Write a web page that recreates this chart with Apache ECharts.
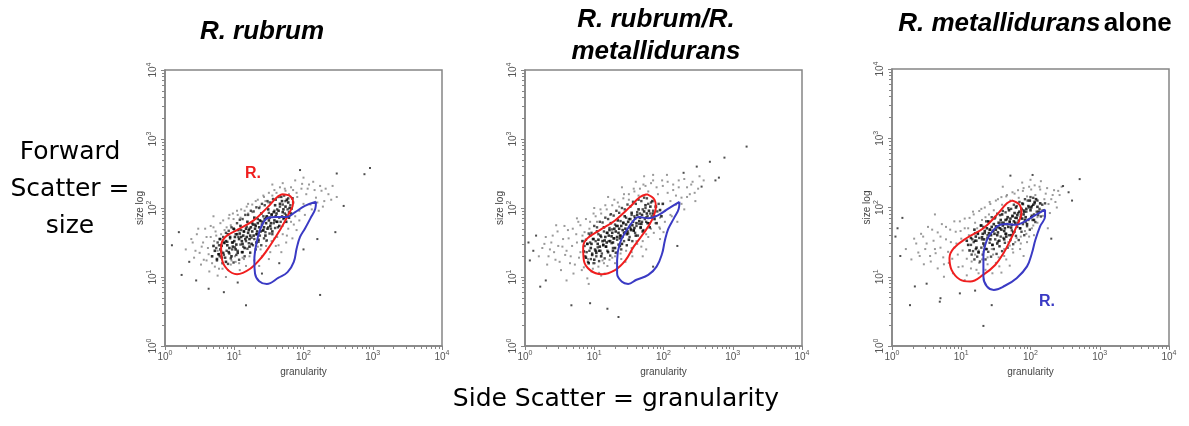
<!DOCTYPE html>
<html>
<head>
<meta charset="utf-8">
<script src="https://cdn.jsdelivr.net/npm/echarts@6/dist/echarts.min.js"></script>
<style>
html, body { margin: 0; padding: 0; background: #fff; }
#main { width: 1189px; height: 426px; }
</style>
</head>
<body>
<div id="main"></div>
<script>
// all values in decades (log10 of channel): 0 -> 10^0 ... 4 -> 10^4
var decades = [0, 1, 2, 3, 4];
var panelTitles = ['R. rubrum', 'R. rubrum/R.\nmetallidurans', 'R. metallidurans alone'];

// panel 1 : R. rubrum
var cells1Core = [[0.68,1.30],[0.72,1.38],[0.75,1.26],[0.70,1.45],[0.78,1.33],
[0.80,1.40],[0.82,1.28],[0.85,1.50],[0.79,1.55],[0.84,1.35],[0.88,1.22],[0.81,1.46],
[0.90,1.46],[0.92,1.36],[0.94,1.58],[0.88,1.52],[0.96,1.30],[0.91,1.62],[0.93,1.42],[0.97,1.50],
[1.00,1.52],[1.02,1.40],[1.04,1.62],[0.99,1.70],[1.05,1.35],[1.01,1.58],[1.03,1.47],[1.07,1.55],[0.98,1.44],[1.06,1.68],
[1.10,1.58],[1.12,1.48],[1.14,1.66],[1.09,1.74],[1.15,1.42],[1.11,1.52],[1.13,1.60],[1.17,1.70],[1.08,1.63],[1.16,1.55],[1.12,1.36],
[1.20,1.64],[1.22,1.55],[1.24,1.72],[1.19,1.80],[1.25,1.48],[1.21,1.68],[1.23,1.60],[1.27,1.76],[1.18,1.58],[1.26,1.66],[1.22,1.44],
[1.30,1.70],[1.32,1.62],[1.34,1.78],[1.29,1.86],[1.35,1.54],[1.31,1.74],[1.33,1.66],[1.37,1.82],[1.28,1.60],[1.36,1.72],[1.32,1.50],
[1.40,1.76],[1.42,1.68],[1.44,1.84],[1.39,1.92],[1.45,1.60],[1.41,1.80],[1.43,1.72],[1.47,1.88],[1.38,1.66],[1.46,1.78],
[1.50,1.82],[1.52,1.74],[1.54,1.90],[1.49,1.98],[1.55,1.66],[1.51,1.86],[1.53,1.78],[1.57,1.94],[1.48,1.70],
[1.60,1.88],[1.62,1.80],[1.64,1.96],[1.59,2.04],[1.65,1.74],[1.61,1.92],[1.66,2.06],[1.58,1.82],
[1.70,1.94],[1.72,1.86],[1.74,2.02],[1.69,2.10],[1.75,1.80],[1.71,1.98],[1.76,2.12],
[1.80,2.00],[1.82,1.92],[1.78,2.08],[1.84,2.14],[1.79,1.86]];
var cells1Dense = [[0.75,1.24],[0.77,1.33],[0.74,1.42],[0.76,1.50],
[0.79,1.30],[0.81,1.37],[0.78,1.46],[0.80,1.55],
[0.83,1.20],[0.85,1.32],[0.82,1.45],[0.84,1.58],
[0.87,1.28],[0.89,1.38],[0.86,1.49],[0.88,1.64],
[0.91,1.19],[0.93,1.34],[0.90,1.51],[0.92,1.67],
[0.95,1.27],[0.97,1.40],[0.94,1.56],[0.96,1.72],
[0.99,1.21],[1.01,1.43],[0.98,1.50],[1.00,1.69],
[1.03,1.32],[1.05,1.38],[1.02,1.62],[1.04,1.78],
[1.07,1.25],[1.09,1.47],[1.06,1.58],[1.08,1.83],
[1.11,1.36],[1.13,1.44],[1.10,1.68],[1.12,1.84],
[1.15,1.30],[1.17,1.52],[1.14,1.66],[1.16,1.90],
[1.19,1.41],[1.21,1.49],[1.18,1.73],[1.20,1.90],
[1.23,1.35],[1.25,1.57],[1.22,1.70],[1.24,1.96],
[1.27,1.46],[1.29,1.55],[1.26,1.78],[1.28,1.95],
[1.31,1.40],[1.33,1.62],[1.30,1.76],[1.32,2.01],
[1.35,1.51],[1.37,1.60],[1.34,1.84],[1.36,2.00],
[1.39,1.46],[1.41,1.67],[1.38,1.81],[1.40,2.06],
[1.43,1.56],[1.45,1.65],[1.42,1.88],[1.44,2.04],
[1.47,1.53],[1.49,1.72],[1.46,1.86],[1.48,2.10],
[1.51,1.63],[1.53,1.70],[1.50,1.93],[1.52,2.08],
[1.55,1.62],[1.57,1.78],[1.54,1.91],[1.56,2.13],
[1.59,1.71],[1.61,1.80],[1.58,1.96],[1.60,2.12],
[1.63,1.72],[1.65,1.86],[1.62,1.98],[1.64,2.16],
[1.67,1.80],[1.69,1.88],[1.66,2.02],[1.68,2.16],
[1.71,1.84],[1.73,1.92],[1.70,2.05],[1.72,2.18],
[1.75,1.90],[1.77,1.98],[1.74,2.10],
[1.79,1.94],[1.81,2.04],[1.78,2.14],
[1.83,1.99],[1.85,2.08]];
var cells1Halo = [[0.30,1.40],[0.38,1.55],[0.42,1.28],[0.46,1.62],[0.50,1.35],[0.52,1.18],[0.55,1.50],[0.58,1.70],[0.60,1.24],[0.62,1.42],
[0.64,1.08],[0.66,1.58],[0.70,1.72],[0.72,1.15],[0.74,1.60],[0.76,1.02],[0.80,1.78],[0.83,1.12],[0.86,1.68],[0.88,1.00],
[0.92,1.85],[0.95,1.18],[0.98,1.92],[1.02,1.22],[1.05,1.90],[1.08,1.10],[1.10,1.98],[1.14,1.26],[1.18,2.02],[1.22,1.30],
[1.26,2.05],[1.30,1.36],[1.34,2.12],[1.38,1.40],[1.42,2.18],[1.46,1.45],[1.50,2.22],[1.54,1.52],[1.58,2.26],[1.62,1.58],
[1.66,2.30],[1.70,1.62],[1.74,2.25],[1.78,1.70],[1.82,2.30],[1.86,1.76],[1.90,2.22],[1.94,1.82],[1.98,2.35],[2.02,1.90],
[2.06,2.28],[2.10,2.05],[2.14,2.38],[2.18,2.15],[2.22,1.96],[2.26,2.25],[2.30,2.10],[2.36,2.20],[2.42,2.32],[2.48,2.16],
[1.88,2.40],[1.70,2.36],[1.55,2.34],[2.00,2.44],[1.45,2.10],[1.20,1.92],[0.95,1.75],[1.60,1.45],[1.75,1.50],[1.90,1.68],
[0.40,1.50],[0.44,1.38],[0.48,1.70],[0.53,1.44],[0.56,1.25],[0.60,1.58],[0.63,1.33],[0.66,1.74],[0.68,1.20],[0.71,1.52],
[0.73,1.66],[0.76,1.38],[0.78,1.12],[0.81,1.62],[0.84,1.82],[0.86,1.28],[0.89,1.72],[0.91,1.10],[0.93,1.90],[0.96,1.24],
[0.99,1.84],[1.01,1.30],[1.04,1.96],[1.07,1.20],[1.09,1.86],[1.12,1.28],[1.15,1.96],[1.17,1.16],[1.20,2.06],[1.23,1.36],
[1.26,1.94],[1.29,1.24],[1.31,2.10],[1.34,1.44],[1.37,2.02],[1.40,1.30],[1.43,2.16],[1.46,1.52],[1.49,2.08],[1.52,1.36],
[1.55,2.18],[1.58,1.56],[1.61,2.22],[1.64,1.46],[1.67,2.16],[1.70,1.74],[1.73,2.28],[1.76,1.60],[1.79,2.20],[1.82,1.80],
[1.85,2.26],[1.88,1.88],[1.91,2.16],[1.94,1.96],[1.97,2.28],[2.00,2.06],[2.04,2.20],[2.08,2.34],[2.12,1.98],[2.16,2.26],
[2.20,2.08],[2.24,2.32],[2.28,2.02],[2.32,2.28],[2.40,2.12],[1.36,1.16],[1.50,1.26],[1.68,1.36],[1.84,1.56],[0.70,1.88]];
var cells1Out = [[0.10,1.46],[0.24,1.03],[0.20,1.65],[0.35,1.22],[0.63,0.83],[0.85,0.78],[1.17,0.59],[1.05,0.92],[1.40,1.05],[1.65,1.20],
[2.00,1.40],[2.24,0.74],[2.46,1.65],[2.58,2.03],[2.48,2.50],[2.88,2.49],[2.96,2.58],[2.20,1.55],[1.95,2.55],[0.45,0.95]];
var gateRed1 = [[1.69,2.20],[1.81,2.17],[1.85,2.07],[1.78,1.90],[1.66,1.68],[1.54,1.49],[1.40,1.29],[1.23,1.12],[1.04,1.04],
[0.90,1.11],[0.82,1.27],[0.81,1.44],[0.87,1.58],[1.04,1.68],[1.28,1.82],[1.49,2.02],[1.61,2.15]];
var gateBlue1 = [[2.18,2.09],[2.17,1.99],[2.10,1.85],[2.02,1.70],[1.95,1.58],[1.90,1.41],[1.86,1.22],[1.77,1.07],[1.64,0.99],
[1.47,0.90],[1.36,0.94],[1.30,1.05],[1.29,1.24],[1.33,1.53],[1.40,1.75],[1.49,1.86],[1.61,1.87],[1.76,1.87],[1.88,1.94],[2.02,2.03]];

// panel 2 : R. rubrum / R. metallidurans
var cells2Core = [[0.85,1.37],[0.88,1.28],[0.90,1.48],[0.83,1.52],[0.92,1.20],
[0.95,1.42],[0.97,1.32],[0.99,1.55],[0.94,1.60],[1.00,1.25],[0.96,1.48],[1.02,1.38],
[1.05,1.48],[1.07,1.38],[1.09,1.60],[1.04,1.66],[1.10,1.30],[1.06,1.54],[1.08,1.44],[1.12,1.52],[1.03,1.35],
[1.15,1.53],[1.17,1.44],[1.19,1.64],[1.14,1.72],[1.20,1.36],[1.16,1.58],[1.18,1.50],[1.22,1.68],[1.13,1.46],[1.21,1.60],
[1.25,1.59],[1.27,1.50],[1.29,1.70],[1.24,1.78],[1.30,1.42],[1.26,1.64],[1.28,1.56],[1.32,1.74],[1.23,1.52],[1.31,1.66],[1.27,1.38],
[1.35,1.64],[1.37,1.56],[1.39,1.74],[1.34,1.82],[1.40,1.48],[1.36,1.70],[1.38,1.60],[1.42,1.78],[1.33,1.58],[1.41,1.68],[1.37,1.45],
[1.45,1.70],[1.47,1.62],[1.49,1.80],[1.44,1.88],[1.50,1.54],[1.46,1.76],[1.48,1.66],[1.52,1.84],[1.43,1.64],[1.51,1.72],
[1.55,1.75],[1.57,1.67],[1.59,1.85],[1.54,1.93],[1.60,1.60],[1.56,1.80],[1.58,1.71],[1.62,1.90],[1.53,1.68],[1.61,1.78],
[1.65,1.81],[1.67,1.72],[1.69,1.90],[1.64,1.98],[1.70,1.66],[1.66,1.86],[1.68,1.77],[1.72,1.95],
[1.75,1.86],[1.77,1.78],[1.79,1.96],[1.74,2.04],[1.80,1.72],[1.76,1.92],[1.81,2.02],
[1.85,1.92],[1.87,1.84],[1.89,2.02],[1.84,2.10],[1.90,1.78],
[1.95,1.97],[1.97,1.88],[1.99,2.06]];
var cells2Dense = [[0.87,1.30],[0.89,1.36],[0.86,1.45],[0.88,1.54],
[0.91,1.22],[0.93,1.38],[0.90,1.48],[0.92,1.63],
[0.95,1.26],[0.97,1.34],[0.94,1.50],[0.96,1.64],
[0.99,1.20],[1.01,1.40],[0.98,1.55],[1.00,1.74],
[1.03,1.30],[1.05,1.43],[1.02,1.52],[1.04,1.72],
[1.07,1.23],[1.09,1.38],[1.06,1.62],[1.08,1.80],
[1.11,1.34],[1.13,1.47],[1.10,1.58],[1.12,1.79],
[1.15,1.27],[1.17,1.44],[1.14,1.66],[1.16,1.86],
[1.19,1.38],[1.21,1.52],[1.18,1.64],[1.20,1.84],
[1.23,1.31],[1.25,1.49],[1.22,1.71],[1.24,1.91],
[1.27,1.42],[1.29,1.56],[1.26,1.69],[1.28,1.89],
[1.31,1.35],[1.33,1.54],[1.30,1.76],[1.32,1.96],
[1.35,1.47],[1.37,1.60],[1.34,1.74],[1.36,1.93],
[1.39,1.40],[1.41,1.58],[1.38,1.81],[1.40,2.00],
[1.43,1.52],[1.45,1.65],[1.42,1.79],[1.44,1.98],
[1.47,1.46],[1.49,1.63],[1.46,1.86],[1.48,2.05],
[1.51,1.58],[1.53,1.70],[1.50,1.84],[1.52,2.02],
[1.55,1.52],[1.57,1.68],[1.54,1.90],[1.56,2.09],
[1.59,1.64],[1.61,1.74],[1.58,1.88],[1.60,2.06],
[1.63,1.60],[1.65,1.77],[1.62,1.94],[1.64,2.12],
[1.67,1.71],[1.69,1.80],[1.66,1.92],[1.68,2.10],
[1.71,1.68],[1.73,1.84],[1.70,1.98],[1.72,2.15],
[1.75,1.80],[1.77,1.88],[1.74,2.00],[1.76,2.14],
[1.79,1.78],[1.81,1.92],[1.78,2.06],
[1.83,1.88],[1.85,1.96],[1.82,2.08],
[1.87,1.88],[1.89,2.02],
[1.91,1.95],[1.93,2.06]];
var cells2Halo = [[0.20,1.30],[0.28,1.48],[0.32,1.18],[0.36,1.40],[0.40,1.60],[0.44,1.25],[0.48,1.45],[0.52,1.10],[0.55,1.55],[0.58,1.32],
[0.62,1.68],[0.65,1.20],[0.68,1.45],[0.70,1.05],[0.74,1.62],[0.78,1.28],[0.80,1.75],[0.82,1.10],[0.86,1.65],[0.90,0.98],
[0.94,1.80],[0.98,1.12],[1.02,1.88],[1.06,1.15],[1.10,1.92],[1.14,1.20],[1.18,1.98],[1.22,1.25],[1.26,2.04],[1.30,1.30],
[1.34,2.08],[1.38,1.34],[1.42,2.14],[1.46,1.38],[1.50,2.20],[1.54,1.42],[1.58,2.24],[1.62,1.48],[1.66,2.28],[1.70,1.52],
[1.74,2.32],[1.78,1.58],[1.82,2.36],[1.86,1.64],[1.90,2.30],[1.94,1.72],[1.98,2.40],[2.02,1.80],[2.06,2.22],[2.10,1.90],
[2.14,2.34],[2.18,2.05],[2.22,2.40],[2.26,2.15],[2.30,1.98],[2.34,2.30],[2.38,2.20],[2.42,2.38],[2.46,2.10],[2.50,2.28],
[1.60,2.38],[1.40,2.30],[1.20,2.16],[1.00,2.00],[2.05,2.48],[1.72,2.46],[1.30,1.20],[1.55,1.30],[1.75,1.40],[0.60,0.95],
[0.45,1.75],[0.75,1.85],[2.20,1.80],[1.95,1.55],[1.15,1.05],[0.92,0.90],[2.58,2.40],[2.00,1.65],[1.85,2.48],[1.45,1.22],
[0.25,1.42],[0.30,1.58],[0.34,1.30],[0.38,1.50],[0.42,1.36],[0.47,1.66],[0.50,1.22],[0.54,1.44],[0.57,1.74],[0.60,1.38],
[0.63,1.56],[0.66,1.30],[0.69,1.70],[0.72,1.18],[0.75,1.50],[0.77,1.80],[0.80,1.36],[0.83,1.60],[0.85,1.14],[0.88,1.84],
[0.91,1.26],[0.93,1.70],[0.96,1.08],[0.99,1.92],[1.01,1.20],[1.04,1.80],[1.07,1.06],[1.09,1.98],[1.12,1.24],[1.16,2.04],
[1.19,1.16],[1.23,1.90],[1.26,1.28],[1.29,2.12],[1.32,1.36],[1.36,2.02],[1.39,1.26],[1.43,2.20],[1.47,1.46],[1.50,2.12],
[1.54,1.36],[1.57,2.28],[1.61,1.52],[1.64,2.18],[1.68,1.44],[1.71,2.34],[1.75,1.62],[1.78,2.24],[1.82,1.70],[1.85,2.40],
[1.88,1.78],[1.92,2.20],[1.95,1.86],[1.99,2.32],[2.02,1.96],[2.06,2.38],[2.10,2.10],[2.14,2.26],[2.18,2.18],[2.22,2.30],
[2.26,2.06],[2.30,2.42],[2.34,2.16],[2.40,2.34],[2.45,2.22],[2.52,2.46],[1.95,1.70],[1.70,1.30],[2.12,1.88],[1.10,1.02]];
var cells2Out = [[0.07,1.24],[0.22,0.86],[0.05,1.50],[0.12,1.38],[0.16,1.60],[0.67,0.59],[0.94,0.62],[1.19,0.54],[1.35,0.42],[2.29,2.51],
[2.55,2.31],[2.67,2.67],[2.80,2.44],[2.88,2.73],[3.20,2.89],[2.75,2.40],[2.20,1.45],[1.85,1.15],[2.48,2.60],[0.30,0.95]];
var gateRed2 = [[1.76,2.20],[1.87,2.12],[1.89,2.02],[1.83,1.82],[1.71,1.63],[1.57,1.44],[1.45,1.24],[1.30,1.10],[1.11,1.04],
[0.94,1.10],[0.85,1.24],[0.84,1.44],[0.90,1.56],[1.08,1.68],[1.30,1.82],[1.52,2.02],[1.66,2.16]];
var gateBlue2 = [[2.23,2.09],[2.22,1.99],[2.15,1.85],[2.07,1.70],[2.02,1.53],[1.98,1.34],[1.90,1.15],[1.78,1.03],[1.61,0.96],
[1.49,0.90],[1.40,0.93],[1.33,1.05],[1.33,1.24],[1.37,1.49],[1.47,1.68],[1.57,1.82],[1.64,1.87],[1.78,1.85],[1.93,1.90],[2.07,1.99]];

// panel 3 : R. metallidurans alone
var cells3Core = [[1.10,1.46],[1.12,1.38],[1.14,1.56],[1.08,1.52],
[1.20,1.52],[1.22,1.42],[1.24,1.62],[1.19,1.68],[1.25,1.35],[1.21,1.58],
[1.30,1.57],[1.32,1.48],[1.34,1.66],[1.29,1.74],[1.35,1.40],[1.31,1.62],[1.33,1.54],[1.37,1.70],
[1.40,1.63],[1.42,1.54],[1.44,1.72],[1.39,1.80],[1.45,1.46],[1.41,1.68],[1.43,1.60],[1.47,1.76],[1.38,1.56],[1.46,1.66],
[1.50,1.68],[1.52,1.60],[1.54,1.78],[1.49,1.86],[1.55,1.52],[1.51,1.72],[1.53,1.64],[1.57,1.82],[1.48,1.62],[1.56,1.70],[1.52,1.48],
[1.60,1.74],[1.62,1.66],[1.64,1.82],[1.59,1.90],[1.65,1.58],[1.61,1.78],[1.63,1.70],[1.67,1.86],[1.58,1.68],[1.66,1.76],[1.62,1.54],[1.64,1.62],
[1.70,1.79],[1.72,1.71],[1.74,1.88],[1.69,1.96],[1.75,1.64],[1.71,1.84],[1.73,1.75],[1.77,1.92],[1.68,1.72],[1.76,1.80],[1.72,1.60],
[1.80,1.85],[1.82,1.77],[1.84,1.94],[1.79,2.00],[1.85,1.70],[1.81,1.89],[1.83,1.81],[1.87,1.98],[1.78,1.78],[1.86,1.86],
[1.90,1.90],[1.92,1.82],[1.94,1.98],[1.89,2.05],[1.95,1.76],[1.91,1.94],[1.93,1.86],[1.97,2.02],[1.88,1.84],
[2.00,1.96],[2.02,1.88],[2.04,2.04],[1.99,2.10],[2.05,1.82],[2.01,2.00],[2.06,2.08],
[2.10,2.01],[2.12,1.94],[2.08,2.12],[2.14,2.06]];
var cells3Dense = [[1.15,1.32],[1.17,1.37],[1.14,1.46],[1.16,1.54],
[1.19,1.25],[1.21,1.40],[1.18,1.50],[1.20,1.63],
[1.23,1.29],[1.25,1.36],[1.22,1.52],[1.24,1.64],
[1.27,1.22],[1.29,1.42],[1.26,1.56],[1.28,1.74],
[1.31,1.32],[1.33,1.45],[1.30,1.54],[1.32,1.72],
[1.35,1.25],[1.37,1.40],[1.34,1.63],[1.36,1.80],
[1.39,1.36],[1.41,1.49],[1.38,1.60],[1.40,1.79],
[1.43,1.29],[1.45,1.46],[1.42,1.68],[1.44,1.86],
[1.47,1.40],[1.49,1.54],[1.46,1.66],[1.48,1.84],
[1.51,1.33],[1.53,1.51],[1.50,1.73],[1.52,1.91],
[1.55,1.44],[1.57,1.58],[1.54,1.71],[1.56,1.89],
[1.59,1.37],[1.61,1.56],[1.58,1.78],[1.60,1.95],
[1.63,1.49],[1.65,1.62],[1.62,1.76],[1.64,1.93],
[1.67,1.42],[1.69,1.60],[1.66,1.83],[1.68,1.99],
[1.71,1.53],[1.73,1.67],[1.70,1.80],[1.72,1.98],
[1.75,1.47],[1.77,1.65],[1.74,1.87],[1.76,2.04],
[1.79,1.59],[1.81,1.72],[1.78,1.85],[1.80,2.02],
[1.83,1.53],[1.85,1.70],[1.82,1.92],[1.84,2.08],
[1.87,1.65],[1.89,1.76],[1.86,1.90],[1.88,2.06],
[1.91,1.60],[1.93,1.79],[1.90,1.96],[1.92,2.12],
[1.95,1.73],[1.97,1.82],[1.94,1.94],[1.96,2.10],
[1.99,1.68],[2.01,1.86],[1.98,2.00],[2.00,2.15],
[2.03,1.82],[2.05,1.90],[2.02,2.02],[2.04,2.14],
[2.07,1.79],[2.09,1.94],[2.06,2.06],
[2.11,1.89],[2.13,1.98],[2.10,2.10],
[2.15,1.87],[2.17,2.04],
[2.19,1.96],[2.21,2.06]];
var cells3Halo = [[0.20,1.40],[0.28,1.25],[0.32,1.55],[0.38,1.35],[0.42,1.62],[0.46,1.18],[0.50,1.48],[0.55,1.30],[0.58,1.68],[0.62,1.40],
[0.66,1.12],[0.70,1.58],[0.74,1.28],[0.78,1.72],[0.82,1.20],[0.85,1.50],[0.88,1.05],[0.92,1.65],[0.95,1.32],[0.98,1.80],
[1.02,1.15],[1.05,1.70],[1.08,1.02],[1.12,1.85],[1.15,1.22],[1.18,1.90],[1.22,1.10],[1.26,1.95],[1.30,1.25],[1.34,2.00],
[1.38,1.18],[1.42,2.05],[1.46,1.32],[1.50,2.10],[1.54,1.28],[1.58,2.15],[1.62,1.40],[1.66,2.18],[1.70,1.45],[1.74,2.22],
[1.78,1.50],[1.82,2.25],[1.86,1.58],[1.90,2.28],[1.94,1.62],[1.98,2.30],[2.02,1.70],[2.06,2.32],[2.10,1.78],[2.14,2.26],
[2.18,1.88],[2.22,2.20],[2.26,2.05],[2.30,2.12],[2.34,2.25],[2.38,2.00],[2.42,2.18],[1.25,1.38],[1.35,1.10],[1.45,1.05],
[1.55,1.15],[1.65,1.25],[1.75,1.35],[1.85,1.40],[1.95,1.50],[2.05,1.60],[1.10,1.70],[1.00,1.55],[0.90,1.42],[1.20,1.78],
[2.15,2.38],[1.88,2.36],[1.60,2.30],[2.00,2.40],[1.40,1.90],[1.30,1.82],[0.75,1.00],[1.05,0.95],[2.25,1.70],[2.45,2.30],
[0.35,1.48],[0.40,1.30],[0.45,1.58],[0.48,1.40],[0.52,1.72],[0.56,1.22],[0.60,1.52],[0.63,1.34],[0.66,1.64],[0.70,1.42],
[0.72,1.76],[0.75,1.18],[0.78,1.54],[0.81,1.36],[0.84,1.68],[0.87,1.26],[0.90,1.80],[0.93,1.48],[0.96,1.14],[0.99,1.66],
[1.02,1.38],[1.05,1.84],[1.08,1.26],[1.11,1.60],[1.14,1.12],[1.17,1.94],[1.20,1.32],[1.23,1.70],[1.26,1.20],[1.29,1.98],
[1.32,1.36],[1.35,1.86],[1.38,1.28],[1.41,2.08],[1.44,1.40],[1.47,1.96],[1.50,1.20],[1.53,2.12],[1.56,1.44],[1.59,2.04],
[1.62,1.30],[1.65,2.16],[1.68,1.50],[1.71,2.10],[1.74,1.40],[1.77,2.20],[1.80,1.56],[1.83,2.14],[1.86,1.48],[1.89,2.24],
[1.92,1.66],[1.95,2.16],[1.98,1.58],[2.01,2.26],[2.04,1.74],[2.07,2.18],[2.10,1.86],[2.13,2.30],[2.16,1.96],[2.20,2.12],
[2.24,2.28],[2.28,1.92],[2.32,2.18],[2.36,2.08],[2.40,2.24],[1.58,1.06],[1.70,1.16],[1.90,1.30],[1.25,1.05],[0.62,1.90]];
var cells3Out = [[0.05,1.58],[0.12,1.30],[0.26,0.59],[0.33,0.86],[0.08,1.70],[0.15,1.85],[0.70,0.69],[0.69,0.64],[0.98,0.76],[1.32,0.29],
[1.44,0.59],[1.71,2.46],[2.03,2.47],[2.47,2.31],[2.55,2.22],[2.71,2.41],[2.30,1.55],[0.50,0.90],[1.20,0.80],[2.60,2.10]];
var gateRed3 = [[1.73,2.10],[1.84,2.04],[1.87,1.92],[1.80,1.73],[1.71,1.53],[1.61,1.34],[1.49,1.17],[1.32,1.03],[1.13,0.93],
[0.98,0.96],[0.86,1.10],[0.83,1.27],[0.89,1.41],[1.08,1.56],[1.32,1.70],[1.51,1.89],[1.66,2.06]];
var gateBlue3 = [[2.21,1.97],[2.21,1.87],[2.14,1.73],[2.07,1.53],[2.02,1.34],[1.95,1.15],[1.80,0.98],[1.63,0.87],[1.47,0.81],
[1.37,0.86],[1.32,1.00],[1.32,1.29],[1.37,1.53],[1.47,1.68],[1.56,1.75],[1.66,1.76],[1.78,1.75],[1.92,1.80],[2.07,1.89]];

var cellsCore = [cells1Core, cells2Core, cells3Core];
var cellsDense = [cells1Dense, cells2Dense, cells3Dense];
var cellsHalo = [cells1Halo, cells2Halo, cells3Halo];
var cellsOut = [cells1Out, cells2Out, cells3Out];
var gatesRed = [gateRed1, gateRed2, gateRed3];
var gatesBlue = [gateBlue1, gateBlue2, gateBlue3];

var dom = document.getElementById('main');
var chart = echarts.init(dom);

var gridBoxes = [
    {left: 165, top: 70, width: 277, height: 276},
    {left: 525, top: 70, width: 277, height: 276},
    {left: 892, top: 69, width: 277, height: 277}
];
var frameColor = '#858585';
var labelColor = '#555';
var redLine = '#f01e1e';
var blueLine = '#3a3ac4';

var powRich = {
    b: {fontSize: 10, color: labelColor, fontFamily: 'Liberation Sans'},
    s: {fontSize: 7, color: labelColor, fontFamily: 'Liberation Sans', padding: [0, 0, 7, 0]}
};
function powLabel(v) {
    return '{b|10}{s|' + v + '}';
}

var grids = [], xAxes = [], yAxes = [], series = [];
for (var i = 0; i < 3; i++) {
    var g = gridBoxes[i];
    grids.push({left: g.left, top: g.top, width: g.width, height: g.height, show: true,
        borderColor: frameColor, borderWidth: 1.5, backgroundColor: 'transparent', containLabel: false});

    // decade axes carry data, labels and major ticks
    xAxes.push({gridIndex: i, type: 'value', position: 'bottom', min: decades[0], max: decades[decades.length - 1], interval: 1,
        axisLine: {lineStyle: {color: frameColor, width: 1.5}},
        axisTick: {length: 4, lineStyle: {color: frameColor}},
        splitLine: {show: false},
        axisLabel: {formatter: powLabel, rich: powRich, margin: 4},
        name: 'granularity', nameLocation: 'middle', nameGap: 20,
        nameTextStyle: {fontSize: 10, color: '#444', fontFamily: 'Liberation Sans'}});
    yAxes.push({gridIndex: i, type: 'value', position: 'left', min: decades[0], max: decades[decades.length - 1], interval: 1,
        axisLine: {lineStyle: {color: frameColor, width: 1.5}},
        axisTick: {length: 4, lineStyle: {color: frameColor}},
        splitLine: {show: false},
        axisLabel: {formatter: powLabel, rich: powRich, margin: 5, rotate: 90},
        name: 'size log', nameLocation: 'middle', nameGap: 9, nameRotate: 90,
        nameTextStyle: {fontSize: 10, color: '#444', fontFamily: 'Liberation Sans'}});
    // log axes only for the 2..9 minor ticks
    xAxes.push({gridIndex: i, type: 'log', logBase: 10, position: 'bottom', min: 1, max: 10000,
        axisLine: {show: false}, axisLabel: {show: false}, axisTick: {show: false}, splitLine: {show: false},
        minorTick: {show: true, splitNumber: 9, length: 3, lineStyle: {color: frameColor}}});
    yAxes.push({gridIndex: i, type: 'log', logBase: 10, position: 'left', min: 1, max: 10000,
        axisLine: {show: false}, axisLabel: {show: false}, axisTick: {show: false}, splitLine: {show: false},
        minorTick: {show: true, splitNumber: 9, length: 3, lineStyle: {color: frameColor}}});

    var xi = i * 2, yi = i * 2;
    series.push({type: 'scatter', xAxisIndex: xi, yAxisIndex: yi, data: cellsHalo[i], symbol: 'rect', symbolSize: 2,
        itemStyle: {color: '#808080'}, silent: true, z: 2});
    series.push({type: 'scatter', xAxisIndex: xi, yAxisIndex: yi, data: cellsDense[i], symbol: 'rect', symbolSize: 2.4,
        itemStyle: {color: '#222'}, silent: true, z: 3});
    series.push({type: 'scatter', xAxisIndex: xi, yAxisIndex: yi, data: cellsCore[i], symbol: 'rect', symbolSize: 2.6,
        itemStyle: {color: '#000'}, silent: true, z: 3});
    series.push({type: 'scatter', xAxisIndex: xi, yAxisIndex: yi, data: cellsOut[i], symbol: 'rect', symbolSize: 2,
        itemStyle: {color: '#222'}, silent: true, z: 3});
    series.push({type: 'line', xAxisIndex: xi, yAxisIndex: yi, data: gatesRed[i].concat([gatesRed[i][0]]),
        smooth: 0.4, symbol: 'none', lineStyle: {color: redLine, width: 2}, silent: true, z: 5});
    series.push({type: 'line', xAxisIndex: xi, yAxisIndex: yi, data: gatesBlue[i].concat([gatesBlue[i][0]]),
        smooth: 0.4, symbol: 'none', lineStyle: {color: blueLine, width: 2}, silent: true, z: 5});
}

var titleFont = 'italic bold 26px "Liberation Sans", Arial, sans-serif';
var handFont = '25px "DejaVu Sans", sans-serif';

option = {
    backgroundColor: '#fff',
    animation: false,
    grid: grids,
    xAxis: xAxes,
    yAxis: yAxes,
    series: series,
    graphic: [
        {type: 'text', x: 262, y: 32, style: {text: panelTitles[0], font: titleFont, fill: '#000', align: 'center', verticalAlign: 'middle'}},
        {type: 'text', x: 656, y: 36, style: {text: panelTitles[1], font: titleFont, fill: '#000', align: 'center', verticalAlign: 'middle', lineHeight: 32}},
        {type: 'text', x: 1035, y: 24, style: {
            text: '{i|R. metallidurans} {n|alone}', align: 'center', verticalAlign: 'middle',
            rich: {
                i: {font: titleFont, fill: '#000'},
                n: {font: 'bold 26px "Liberation Sans", Arial, sans-serif', fill: '#000'}
            }}},
        {type: 'text', x: 70, y: 189, style: {text: 'Forward\nScatter =\nsize', font: handFont, fill: '#000', align: 'center', verticalAlign: 'middle', lineHeight: 37}},
        {type: 'text', x: 616, y: 399, style: {text: 'Side Scatter = granularity', font: handFont, fill: '#000', align: 'center', verticalAlign: 'middle'}},
        {type: 'text', x: 253, y: 174, style: {text: 'R.', font: 'bold 16px "Liberation Sans", Arial, sans-serif', fill: redLine, align: 'center', verticalAlign: 'middle'}},
        {type: 'text', x: 1047, y: 302, style: {text: 'R.', font: 'bold 16px "Liberation Sans", Arial, sans-serif', fill: blueLine, align: 'center', verticalAlign: 'middle'}}
    ]
};

if (option && typeof option === 'object') {
    chart.setOption(option, true);
}
window.onresize = function () {
    chart.resize();
};
</script>
</body>
</html>
